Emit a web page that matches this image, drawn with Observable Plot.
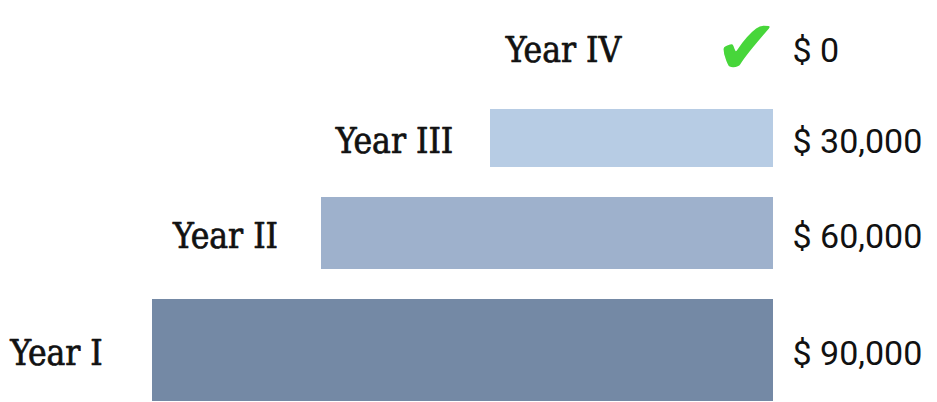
<!DOCTYPE html>
<html><head><meta charset="utf-8">
<script src="https://cdn.jsdelivr.net/npm/d3@7"></script>
<script src="https://cdn.jsdelivr.net/npm/@observablehq/plot@0.6"></script>
<style>body{margin:0;background:#fff;overflow:hidden}</style>
</head><body><div id="chart"></div>
<script>
// data
const years = ["Year IV", "Year III", "Year II", "Year I"];
const amounts = [0, 30000, 60000, 90000];
const amountLabels = ["$ 0", "$ 30,000", "$ 60,000", "$ 90,000"];
const barColors = ["none", "#b7cce4", "#9eb1cc", "#7489a5"];

// layout (row thickness and gaps, styling only)
const thickness = [64, 58, 72, 102];
const gap = 30, top0 = 15;
const base = -20237; // value at which the bars' right edge sits

let t = top0;
const rows = years.map((year, i) => {
  const r = {year, amount: amounts[i], label: amountLabels[i], color: barColors[i], y1: t, y2: t + thickness[i]};
  r.ym = (r.y1 + r.y2) / 2;
  t += thickness[i] + gap;
  return r;
});

const slab = "'DejaVu Serif Condensed', 'DejaVu Serif', serif";
const chart = Plot.plot({
  width: 937, height: 402, margin: 0,
  x: {domain: [base, 90000], range: [773, 152], axis: null},
  y: {domain: [0, 402], range: [0, 402], axis: null},
  marks: [
    Plot.rect(rows.filter(d => d.amount > 0), {x1: base, x2: "amount", y1: "y1", y2: "y2", fill: "color"}),
    Plot.text(rows, {x: "amount", y: "ym", text: "year", dx: -96, dy: 3, textAnchor: "middle",
      fontFamily: slab, fontSize: 35, fontStretch: "condensed", fill: "#111", stroke: "#111", strokeWidth: 0.7}),
    Plot.text(rows, {x: base, y: "ym", text: "label", dx: 19, dy: 4, textAnchor: "start",
      fontFamily: "Roboto, sans-serif", fontSize: 34, fill: "#111"}),
    Plot.text(rows.filter(d => d.amount === 0), {x: base, y: "ym", text: () => "\u2714", dx: -27, dy: 2,
      textAnchor: "middle", fontFamily: "'DejaVu Sans', sans-serif", fontSize: 76, fill: "#47d63a"})
  ]
});
document.getElementById("chart").append(chart);
</script>
</body></html>
